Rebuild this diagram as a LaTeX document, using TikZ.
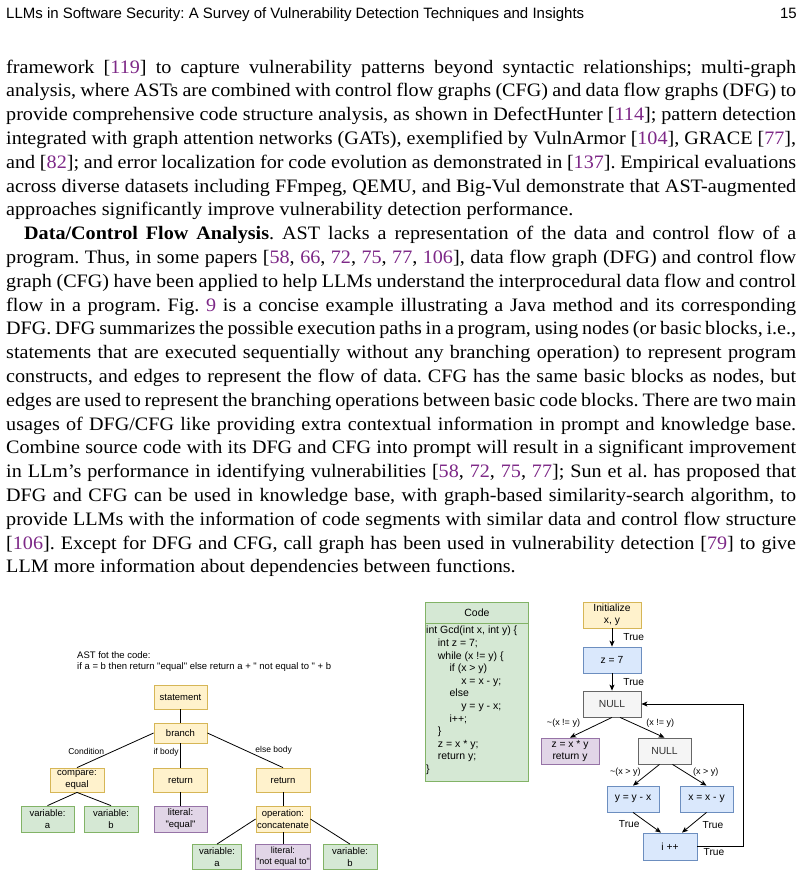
\documentclass[tikz,border=0pt]{standalone}
\usepackage{fontspec}
\setmainfont[FakeStretch=1.06]{Liberation Serif}
\newfontfamily\drawfont{Liberation Sans}
\newfontfamily\headfont{Liberation Sans}
\usepackage{xcolor}
\usetikzlibrary{arrows.meta,positioning}
\frenchspacing

\definecolor{citepurple}{RGB}{125,40,135}
\definecolor{ylfill}{RGB}{255,242,204}
\definecolor{ylline}{RGB}{214,182,86}
\definecolor{grfill}{RGB}{213,232,212}
\definecolor{grline}{RGB}{130,179,102}
\definecolor{pufill}{RGB}{225,213,231}
\definecolor{puline}{RGB}{150,115,166}
\definecolor{blfill}{RGB}{218,232,252}
\definecolor{blline}{RGB}{108,142,191}
\definecolor{gyfill}{RGB}{245,245,245}
\definecolor{gyline}{RGB}{102,102,102}
\definecolor{gytext}{RGB}{51,51,51}

\newcommand{\cnum}[1]{\textcolor{citepurple}{#1}}
\newcommand{\fullline}[1]{\makebox[790pt][s]{#1}}

\begin{document}
\begin{tikzpicture}[x=1pt, y=-1pt,
    bodytext/.style={anchor=base west, inner sep=0pt, font=\fontsize{19}{23.8}\selectfont},
    boxnode/.style={rectangle, draw, line width=0.8pt, align=center, inner sep=1pt,
      font=\drawfont\fontsize{9.5}{11.5}\selectfont, minimum width=53pt, minimum height=24pt},
    yellowbox/.style={boxnode, draw=ylline, fill=ylfill},
    greenbox/.style={boxnode, draw=grline, fill=grfill},
    purplebox/.style={boxnode, draw=puline, fill=pufill},
    bluebox/.style={boxnode, draw=blline, fill=blfill, font=\drawfont\fontsize{10.3}{12}\selectfont, minimum width=58pt, minimum height=26pt},
    greybox/.style={boxnode, draw=gyline, fill=gyfill, text=gytext, font=\drawfont\fontsize{10.3}{12}\selectfont, minimum width=58pt, minimum height=26pt},
    edgelabel/.style={inner sep=0pt, font=\drawfont\fontsize{8.5}{10}\selectfont},
    condlabel/.style={inner sep=1pt, font=\drawfont\fontsize{9}{10}\selectfont},
    truelabel/.style={inner sep=1pt, font=\drawfont\fontsize{10.2}{12}\selectfont},
    link/.style={line width=0.8pt},
    flow/.style={line width=0.8pt, -{Stealth[length=6pt,width=5pt,inset=1.5pt]}}]
  \useasboundingbox (0,0) rectangle (803,876);

  % Running head
  \node[anchor=base west, inner sep=0pt, font=\headfont\fontsize{15}{17}\selectfont] (runhead) at (6,18) {LLMs in Software Security: A Survey of Vulnerability Detection Techniques and Insights};
  \node[anchor=base east, inner sep=0pt, font=\headfont\fontsize{15}{17}\selectfont] (pagenum) at (797,18) {15};

  % Body text
  \node[bodytext] (line1) at (6,73) {\fullline{framework [\cnum{119}] to capture vulnerability patterns beyond syntactic relationships; multi-graph}};
  \node[bodytext] (line2) at (6,96.8) {\fullline{analysis, where ASTs are combined with control flow graphs (CFG) and data flow graphs (DFG) to}};
  \node[bodytext] (line3) at (6,120.6) {\fullline{provide comprehensive code structure analysis, as shown in DefectHunter [\cnum{114}]; pattern detection}};
  \node[bodytext] (line4) at (6,144.4) {\fullline{integrated with graph attention networks (GATs), exemplified by VulnArmor [\cnum{104}], GRACE [\cnum{77}],}};
  \node[bodytext] (line5) at (6,168.2) {\fullline{and [\cnum{82}]; and error localization for code evolution as demonstrated in [\cnum{137}]. Empirical evaluations}};
  \node[bodytext] (line6) at (6,192) {\fullline{across diverse datasets including FFmpeg, QEMU, and Big-Vul demonstrate that AST-augmented}};
  \node[bodytext] (line7) at (6,215.8) {approaches significantly improve vulnerability detection performance.};
  \node[bodytext] (line8) at (24,239.6) {\makebox[772pt][s]{\textbf{Data/Control Flow Analysis}. AST lacks a representation of the data and control flow of a}};
  \node[bodytext] (line9) at (6,263.4) {\fullline{program. Thus, in some papers [\cnum{58}, \cnum{66}, \cnum{72}, \cnum{75}, \cnum{77}, \cnum{106}], data flow graph (DFG) and control flow}};
  \node[bodytext] (line10) at (6,287.2) {\fullline{graph (CFG) have been applied to help LLMs understand the interprocedural data flow and control}};
  \node[bodytext] (line11) at (6,311) {\fullline{flow in a program. Fig. \cnum{9} is a concise example illustrating a Java method and its corresponding}};
  \node[bodytext] (line12) at (6,334.8) {\fullline{DFG. DFG summarizes the possible execution paths in a program, using nodes (or basic blocks, i.e.,}};
  \node[bodytext] (line13) at (6,358.6) {\fullline{statements that are executed sequentially without any branching operation) to represent program}};
  \node[bodytext] (line14) at (6,382.4) {\fullline{constructs, and edges to represent the flow of data. CFG has the same basic blocks as nodes, but}};
  \node[bodytext] (line15) at (6,406.2) {\fullline{edges are used to represent the branching operations between basic code blocks. There are two main}};
  \node[bodytext] (line16) at (6,430) {\fullline{usages of DFG/CFG like providing extra contextual information in prompt and knowledge base.}};
  \node[bodytext] (line17) at (6,453.8) {\fullline{Combine source code with its DFG and CFG into prompt will result in a significant improvement}};
  \node[bodytext] (line18) at (6,477.6) {\fullline{in LLm’s performance in identifying vulnerabilities [\cnum{58}, \cnum{72}, \cnum{75}, \cnum{77}]; Sun et al. has proposed that}};
  \node[bodytext] (line19) at (6,501.4) {\fullline{DFG and CFG can be used in knowledge base, with graph-based similarity-search algorithm, to}};
  \node[bodytext] (line20) at (6,525.2) {\fullline{provide LLMs with the information of code segments with similar data and control flow structure}};
  \node[bodytext] (line21) at (6,549) {\fullline{[\cnum{106}]. Except for DFG and CFG, call graph has been used in vulnerability detection [\cnum{79}] to give}};
  \node[bodytext] (line22) at (6,572.8) {LLM more information about dependencies between functions.};

  % AST caption
  \node[anchor=north west, align=left, inner sep=0pt, font=\drawfont\fontsize{9.5}{11.2}\selectfont] (asttitle) at (77,651) {AST fot the code:\\if a = b then return "equal" else return a + " not equal to " + b};

  % AST nodes
  \node[yellowbox] (statement) at (180.5,697) {statement};
  \node[yellowbox, minimum height=20pt] (branch) at (180.5,733) {branch};
  \node[yellowbox, minimum width=54pt] (compare) at (77,780) {compare:\\equal};
  \node[yellowbox, minimum width=54pt] (ifreturn) at (180.5,780) {return};
  \node[yellowbox, minimum width=54pt] (elsereturn) at (283,780) {return};
  \node[greenbox, minimum height=26pt] (vara) at (47.5,819) {variable:\\a};
  \node[greenbox, minimum width=54pt, minimum height=26pt] (varb) at (111,819) {variable:\\b};
  \node[purplebox, minimum height=26pt] (litequal) at (180.5,819) {literal:\\"equal"};
  \node[yellowbox, minimum width=54pt, minimum height=26pt] (concat) at (283,819) {operation:\\concatenate};
  \node[greenbox, minimum width=49pt, minimum height=25pt] (vara2) at (217,857) {variable:\\a};
  \node[purplebox, minimum width=54pt, minimum height=25pt, font=\drawfont\fontsize{9}{11}\selectfont] (litnot) at (283,857) {literal:\\"not equal to"};
  \node[greenbox, minimum width=54pt, minimum height=25pt] (varb2) at (350,857) {variable:\\b};

  % AST edges
  \draw[link] (statement) -- (branch);
  \draw[link] (branch.west) -- node[edgelabel, pos=0.64, anchor=south east] {Condition} (compare.north);
  \draw[link] (branch) -- node[edgelabel, pos=0.36, left=1.5pt] {if body} (ifreturn);
  \draw[link] (branch.east) -- node[edgelabel, pos=0.63, anchor=south west] {else body} (elsereturn.north);
  \draw[link] (compare.south) -- (vara.north);
  \draw[link] (compare.south) -- (varb.north);
  \draw[link] (ifreturn) -- (litequal);
  \draw[link] (elsereturn) -- (concat);
  \draw[link] (concat.west) -- (vara2.north);
  \draw[link] (concat) -- (litnot);
  \draw[link] (concat.east) -- (varb2.north);

  % Code listing
  \node[rectangle, draw=grline, fill=grfill, line width=0.8pt, minimum width=103pt, minimum height=179pt, anchor=north west] (code) at (425,602) {};
  \node[anchor=north, inner sep=0pt, minimum height=21pt, font=\drawfont\fontsize{10.5}{12}\selectfont] (codehead) at (code.north) {Code};
  \draw[line width=0.8pt, grline] (codehead.south -| code.west) -- (codehead.south -| code.east);
  \node[anchor=north west, align=left, inner sep=0pt, font=\drawfont\fontsize{10.5}{12.6}\selectfont] (codetext) at (426,626) {int Gcd(int x, int y) \{\\
    \hspace*{11.7pt}int z = 7;\\
    \hspace*{11.7pt}while (x != y) \{\\
    \hspace*{23.4pt}if (x > y)\\
    \hspace*{35.1pt}x = x - y;\\
    \hspace*{23.4pt}else\\
    \hspace*{35.1pt}y = y - x;\\
    \hspace*{23.4pt}i++;\\
    \hspace*{11.7pt}\}\\
    \hspace*{11.7pt}z = x * y;\\
    \hspace*{11.7pt}return y;\\
    \}};

  % Control flow nodes
  \node[yellowbox, font=\drawfont\fontsize{10.3}{12}\selectfont, minimum width=58pt, minimum height=26pt] (init) at (612,615) {Initialize\\x, y};
  \node[bluebox] (zseven) at (612,660) {z = 7};
  \node[greybox] (nullouter) at (612,704) {NULL};
  \node[purplebox, font=\drawfont\fontsize{10.3}{12}\selectfont, minimum width=58pt, minimum height=26pt] (result) at (570,751) {z = x * y\\return y};
  \node[greybox, minimum width=53pt] (nullinner) at (664.5,751) {NULL};
  \node[bluebox, minimum width=52pt] (suby) at (633,799) {y = y - x};
  \node[bluebox, minimum width=53pt] (subx) at (706.5,799) {x = x - y};
  \node[bluebox, minimum width=54pt, minimum height=27pt] (incr) at (670,846.5) {i ++};

  % Control flow edges
  \draw[flow] (init) -- node[truelabel, pos=0.5, right=10pt] {True} (zseven);
  \draw[flow] (zseven) -- node[truelabel, pos=0.5, right=10pt] {True} (nullouter);
  \draw[flow] (nullouter.south) -- node[condlabel, pos=0.3, left=18pt] {\textasciitilde(x != y)} (result.north);
  \draw[flow] ([xshift=8pt]nullouter.south) -- node[condlabel, pos=0.29, right=12pt] {(x != y)} (nullinner.north);
  \draw[flow] ([xshift=-5pt]nullinner.south) -- node[condlabel, pos=0.36, left=8pt] {\textasciitilde(x > y)} (suby.north);
  \draw[flow] ([xshift=8pt]nullinner.south) -- node[condlabel, pos=0.36, right=7pt] {(x > y)} (subx.north);
  \draw[flow] (suby.south) -- node[truelabel, pos=0.57, left=8pt] {True} ([xshift=-9pt]incr.north);
  \draw[flow] (subx.south) -- node[truelabel, pos=0.62, right=10pt] {True} ([xshift=12pt]incr.north);
  \draw[flow] (incr.east) -- node[truelabel, pos=0.36, below=1pt] {True} ++(46,0) |- (nullouter.east);
\end{tikzpicture}
\end{document}
